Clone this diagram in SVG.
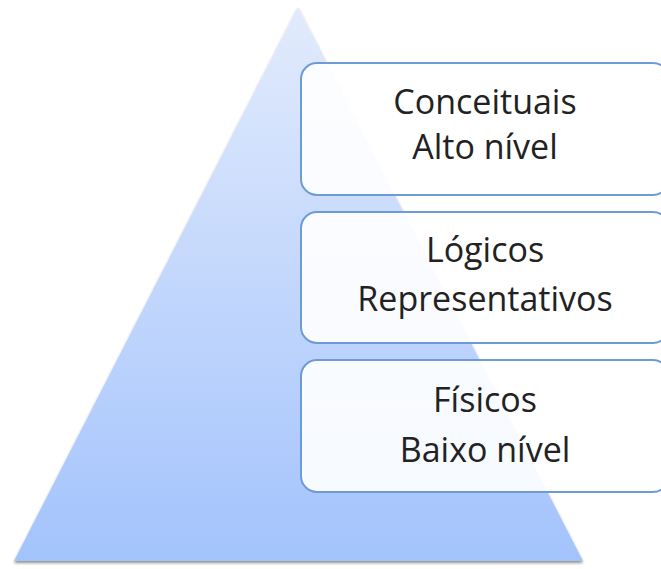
<svg xmlns="http://www.w3.org/2000/svg" width="661" height="569" viewBox="0 0 661 569">
<style>
.box{fill:#ffffff;fill-opacity:0.9;stroke:#6e9ad5;stroke-width:2}
.t{font-family:"Open Sans",Lato,"Noto Sans",sans-serif;font-size:34px;fill:#222222;text-anchor:middle}
</style>
<defs>
<linearGradient id="g" x1="0" y1="0" x2="0" y2="1">
<stop offset="0" stop-color="#e2ebfc"/>
<stop offset="1" stop-color="#a3c3fc"/>
</linearGradient>
<filter id="sh" x="-10%" y="-10%" width="120%" height="120%">
<feGaussianBlur in="SourceAlpha" stdDeviation="1.5"/>
<feOffset dx="0" dy="2"/>
<feComponentTransfer><feFuncA type="linear" slope="0.45"/></feComponentTransfer>
<feMerge><feMergeNode/><feMergeNode in="SourceGraphic"/></feMerge>
</filter>
</defs>
<g id="pyramid">
<polygon points="298,7 583,561 14,561" fill="url(#g)" filter="url(#sh)"/>
</g>
<g id="connectors"></g>
<g id="box1">
<rect class="box" x="301" y="63" width="368" height="132" rx="16"/>
<text class="t" x="485" y="114">Conceituais</text>
<text class="t" x="485" y="159">Alto nível</text>
</g>
<g id="box2">
<rect class="box" x="301" y="212" width="368" height="131" rx="16"/>
<text class="t" x="485" y="262">Lógicos</text>
<text class="t" x="485" y="311">Representativos</text>
</g>
<g id="box3">
<rect class="box" x="301" y="360" width="368" height="132" rx="16"/>
<text class="t" x="485" y="412">Físicos</text>
<text class="t" x="485" y="462">Baixo nível</text>
</g>
</svg>
